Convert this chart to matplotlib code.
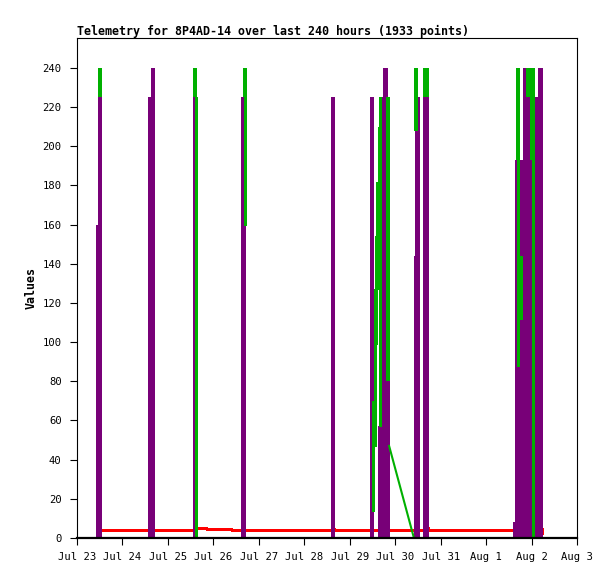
import matplotlib
matplotlib.use('Agg')
import matplotlib.pyplot as plt
import matplotlib.dates as mdates
import pandas as pd

plt.rcParams['font.family'] = ['DejaVu Sans Mono']

# time values are hours since Jul 23 00:00
start = pd.Timestamp('2024-07-23')

# purple series: short spikes (time, top value), all start from 0
purple_t = [11.2, 12.0, 38.8, 39.6, 40.3, 62.2, 87.9, 88.4, 135.4, 155.6,
            159.9, 160.5, 161.1, 161.7, 162.4, 163.0, 163.5, 164.2,
            178.8, 179.6, 180.2, 183.6, 184.3, 184.9,
            231.4, 232.1, 232.8, 233.5, 234.2, 234.8,
            236.7, 237.4, 238.1, 238.8, 239.3, 240.0, 240.7,
            241.7, 242.65, 243.4, 244.3, 245.0]
purple_v = [160, 225, 225, 225, 240, 225, 225, 225, 225, 225,
            57, 225, 225, 225, 240, 240, 225, 80,
            144, 225, 225, 225, 225, 225,
            8, 193, 193, 193, 193, 193,
            240, 240, 225, 225, 225, 193, 193,
            225, 97, 225, 240, 240]

# green series, wide segments (time, low, high)
green_t = [12.0, 62.2, 88.6, 164.2, 179.0, 183.6, 184.3, 184.9,
           232.8, 238.1, 240.0, 240.8]
green_lo = [225, 225, 225, 80, 208, 225, 225, 225,
            193, 225, 193, 193]
green_hi = [240, 240, 240, 225, 240, 240, 240, 240,
            240, 240, 240, 240]

# green series, narrow segments
green_thin_t = [62.9, 88.8, 156.5, 157.1, 157.6, 158.1, 158.6, 159.2, 159.8,
                233.0, 234.6, 240.9]
green_thin_lo = [0, 160, 14, 47, 74, 99, 127, 154, 57, 88, 112, 0]
green_thin_hi = [225, 225, 70, 99, 127, 154, 182, 210, 225, 193, 144, 193]

# green slow decay
green_line_t = [164.8, 177.9]
green_line_v = [47, 0]

# red series
red_t = [11.8, 63.0, 63.1, 68.5, 68.6, 81.6, 81.7, 136.0, 136.1, 136.3,
         185.3, 185.4, 185.6, 234.5, 235.8, 245.8, 245.8]
red_v = [4, 4, 4.7, 4.7, 4.3, 4.3, 4, 4, 4.6, 4,
         4, 5.2, 4, 4, 2.4, 2.4, 4.5]


def to_time(h):
    return start + pd.to_timedelta(h, unit='h')


fig = plt.figure(figsize=(6.15, 5.79), dpi=100)
ax = fig.add_axes([77 / 615, 41 / 579, 500 / 615, 500 / 579])

ax.plot(to_time(red_t), red_v, color='#ff0000', linewidth=1.5, zorder=1,
        antialiased=False)
ax.vlines(to_time(purple_t), 0, purple_v, color='#780078', linewidth=1.45,
          zorder=2, antialiased=False)
ax.vlines(to_time(green_t), green_lo, green_hi, color='#00b000',
          linewidth=1.45, zorder=3, antialiased=False)
ax.vlines(to_time(green_thin_t), green_thin_lo, green_thin_hi,
          color='#00b000', linewidth=0.9, zorder=3, antialiased=False)
ax.plot(to_time(green_line_t), green_line_v, color='#00b000', linewidth=1.5,
        zorder=3)

ax.set_xlim(to_time(0), to_time(264))
ax.set_ylim(0, 255.3)
ax.set_yticks(range(0, 241, 20))
ax.xaxis.set_major_locator(mdates.DayLocator())
ax.xaxis.set_major_formatter(mdates.DateFormatter('%b %-d'))

ax.tick_params(axis='both', direction='out', length=5, width=0.8,
               labelsize=7.6, colors='black')
ax.tick_params(axis='x', pad=5)
ax.tick_params(axis='y', pad=6)

for side in ['left', 'top', 'right']:
    ax.spines[side].set_linewidth(0.8)
ax.spines['bottom'].set_linewidth(1.6)
ax.spines['bottom'].set_zorder(5)

ax.set_ylabel('Values', fontsize=8.4, fontweight='bold')
ax.yaxis.set_label_coords(-0.079, 0.5)
ax.set_title('Telemetry for 8P4AD-14 over last 240 hours (1933 points)',
             loc='left', fontsize=8.4, fontweight='bold', pad=2.5)

fig.savefig('out.png', dpi=100)
